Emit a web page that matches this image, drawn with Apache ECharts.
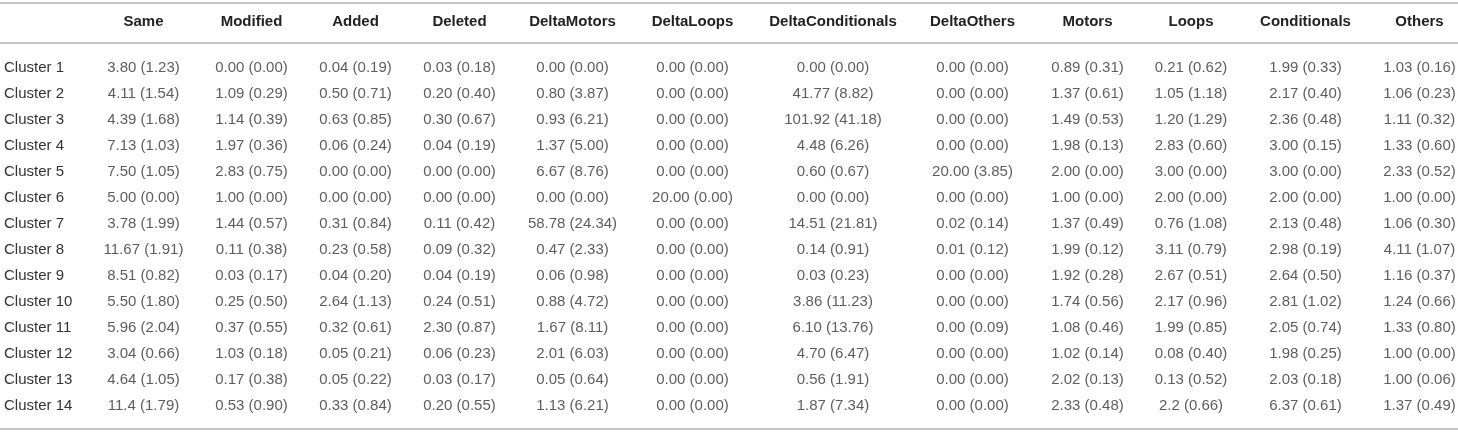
<!DOCTYPE html>
<html>
<head>
<meta charset="utf-8">
<script src="https://cdn.jsdelivr.net/npm/echarts@6/dist/echarts.min.js"></script>
<style>
  html, body { margin: 0; padding: 0; background: #fff; }
  #main { width: 1458px; height: 434px; }
</style>
</head>
<body>
<div id="main"></div>
<script>
// table content: mean (sd) per cluster
var columns = ['Same', 'Modified', 'Added', 'Deleted', 'DeltaMotors', 'DeltaLoops',
  'DeltaConditionals', 'DeltaOthers', 'Motors', 'Loops', 'Conditionals', 'Others'];

var clusters = ['Cluster 1', 'Cluster 2', 'Cluster 3', 'Cluster 4', 'Cluster 5', 'Cluster 6', 'Cluster 7',
  'Cluster 8', 'Cluster 9', 'Cluster 10', 'Cluster 11', 'Cluster 12', 'Cluster 13', 'Cluster 14'];

var same = ['3.80 (1.23)', '4.11 (1.54)', '4.39 (1.68)', '7.13 (1.03)', '7.50 (1.05)', '5.00 (0.00)', '3.78 (1.99)',
  '11.67 (1.91)', '8.51 (0.82)', '5.50 (1.80)', '5.96 (2.04)', '3.04 (0.66)', '4.64 (1.05)', '11.4 (1.79)'];
var modified = ['0.00 (0.00)', '1.09 (0.29)', '1.14 (0.39)', '1.97 (0.36)', '2.83 (0.75)', '1.00 (0.00)', '1.44 (0.57)',
  '0.11 (0.38)', '0.03 (0.17)', '0.25 (0.50)', '0.37 (0.55)', '1.03 (0.18)', '0.17 (0.38)', '0.53 (0.90)'];
var added = ['0.04 (0.19)', '0.50 (0.71)', '0.63 (0.85)', '0.06 (0.24)', '0.00 (0.00)', '0.00 (0.00)', '0.31 (0.84)',
  '0.23 (0.58)', '0.04 (0.20)', '2.64 (1.13)', '0.32 (0.61)', '0.05 (0.21)', '0.05 (0.22)', '0.33 (0.84)'];
var deleted = ['0.03 (0.18)', '0.20 (0.40)', '0.30 (0.67)', '0.04 (0.19)', '0.00 (0.00)', '0.00 (0.00)', '0.11 (0.42)',
  '0.09 (0.32)', '0.04 (0.19)', '0.24 (0.51)', '2.30 (0.87)', '0.06 (0.23)', '0.03 (0.17)', '0.20 (0.55)'];
var deltaMotors = ['0.00 (0.00)', '0.80 (3.87)', '0.93 (6.21)', '1.37 (5.00)', '6.67 (8.76)', '0.00 (0.00)', '58.78 (24.34)',
  '0.47 (2.33)', '0.06 (0.98)', '0.88 (4.72)', '1.67 (8.11)', '2.01 (6.03)', '0.05 (0.64)', '1.13 (6.21)'];
var deltaLoops = ['0.00 (0.00)', '0.00 (0.00)', '0.00 (0.00)', '0.00 (0.00)', '0.00 (0.00)', '20.00 (0.00)', '0.00 (0.00)',
  '0.00 (0.00)', '0.00 (0.00)', '0.00 (0.00)', '0.00 (0.00)', '0.00 (0.00)', '0.00 (0.00)', '0.00 (0.00)'];
var deltaConditionals = ['0.00 (0.00)', '41.77 (8.82)', '101.92 (41.18)', '4.48 (6.26)', '0.60 (0.67)', '0.00 (0.00)', '14.51 (21.81)',
  '0.14 (0.91)', '0.03 (0.23)', '3.86 (11.23)', '6.10 (13.76)', '4.70 (6.47)', '0.56 (1.91)', '1.87 (7.34)'];
var deltaOthers = ['0.00 (0.00)', '0.00 (0.00)', '0.00 (0.00)', '0.00 (0.00)', '20.00 (3.85)', '0.00 (0.00)', '0.02 (0.14)',
  '0.01 (0.12)', '0.00 (0.00)', '0.00 (0.00)', '0.00 (0.09)', '0.00 (0.00)', '0.00 (0.00)', '0.00 (0.00)'];
var motors = ['0.89 (0.31)', '1.37 (0.61)', '1.49 (0.53)', '1.98 (0.13)', '2.00 (0.00)', '1.00 (0.00)', '1.37 (0.49)',
  '1.99 (0.12)', '1.92 (0.28)', '1.74 (0.56)', '1.08 (0.46)', '1.02 (0.14)', '2.02 (0.13)', '2.33 (0.48)'];
var loops = ['0.21 (0.62)', '1.05 (1.18)', '1.20 (1.29)', '2.83 (0.60)', '3.00 (0.00)', '2.00 (0.00)', '0.76 (1.08)',
  '3.11 (0.79)', '2.67 (0.51)', '2.17 (0.96)', '1.99 (0.85)', '0.08 (0.40)', '0.13 (0.52)', '2.2 (0.66)'];
var conditionals = ['1.99 (0.33)', '2.17 (0.40)', '2.36 (0.48)', '3.00 (0.15)', '3.00 (0.00)', '2.00 (0.00)', '2.13 (0.48)',
  '2.98 (0.19)', '2.64 (0.50)', '2.81 (1.02)', '2.05 (0.74)', '1.98 (0.25)', '2.03 (0.18)', '6.37 (0.61)'];
var others = ['1.03 (0.16)', '1.06 (0.23)', '1.11 (0.32)', '1.33 (0.60)', '2.33 (0.52)', '1.00 (0.00)', '1.06 (0.30)',
  '4.11 (1.07)', '1.16 (0.37)', '1.24 (0.66)', '1.33 (0.80)', '1.00 (0.00)', '1.00 (0.06)', '1.37 (0.49)'];

var values = [same, modified, added, deleted, deltaMotors, deltaLoops,
  deltaConditionals, deltaOthers, motors, loops, conditionals, others];

// layout: width of the label column, then of each value column
var colWidths = [88, 111, 105, 103, 105, 121, 119, 162, 117, 113, 94, 135, 93];

var centers = [];
var left = colWidths[0];
for (var i = 1; i < colWidths.length; i++) {
  centers.push(left + colWidths[i] / 2);
  left += colWidths[i];
}
var headerOf = {};
centers.forEach(function (c, i) { headerOf[c.toFixed(1)] = columns[i]; });

var cells = [];
values.forEach(function (col, i) {
  col.forEach(function (txt, r) {
    cells.push({ value: [centers[i], r], text: txt });
  });
});

var font = 'Liberation Sans, Arial, Helvetica, sans-serif';
var ruleColor = '#c4c4c4';

var myChart = echarts.init(document.getElementById('main'));
myChart.setOption({
  animation: false,
  backgroundColor: '#fff',
  grid: { left: 0, right: 0, top: 55, bottom: 15 },
  xAxis: [{
    type: 'value', min: 0, max: 1458, position: 'top', offset: 12,
    axisLine: { show: true, lineStyle: { color: ruleColor, width: 2 } },
    axisTick: { show: false },
    splitLine: { show: false },
    axisLabel: {
      customValues: centers,
      margin: 14,
      fontFamily: font, fontSize: 15, fontWeight: 'bold', color: '#222',
      formatter: function (v) { return headerOf[v.toFixed(1)] || ''; }
    }
  }, {
    type: 'value', min: 0, max: 1458, position: 'top', offset: 52,
    axisLine: { show: true, lineStyle: { color: ruleColor, width: 2 } },
    axisTick: { show: false }, axisLabel: { show: false }, splitLine: { show: false }
  }, {
    type: 'value', min: 0, max: 1458, position: 'bottom', offset: 10,
    axisLine: { show: true, lineStyle: { color: ruleColor, width: 2 } },
    axisTick: { show: false }, axisLabel: { show: false }, splitLine: { show: false }
  }],
  yAxis: {
    type: 'category', data: clusters, inverse: true,
    axisLine: { show: false }, axisTick: { show: false }, splitLine: { show: false },
    axisLabel: { inside: true, margin: 4, fontFamily: font, fontSize: 15, color: '#333' }
  },
  series: [{
    type: 'scatter',
    xAxisIndex: 0,
    data: cells,
    symbolSize: 0,
    itemStyle: { color: 'rgba(0,0,0,0)' },
    silent: true,
    label: {
      show: true, position: 'inside',
      fontFamily: font, fontSize: 15, color: '#333',
      formatter: function (p) { return p.data.text; }
    }
  }]
});
</script>
</body>
</html>
